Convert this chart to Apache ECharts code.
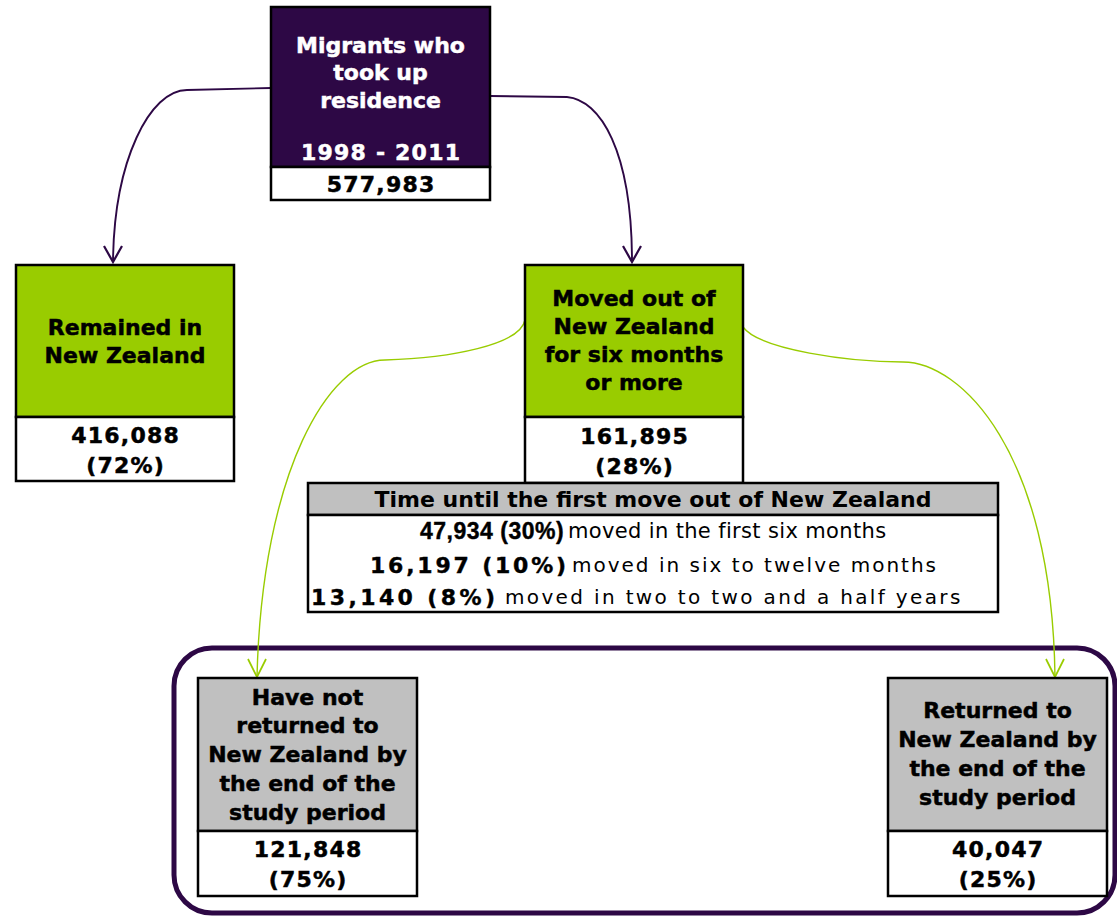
<!DOCTYPE html>
<html>
<head>
<meta charset="utf-8">
<title>Migrants who took up residence 1998 - 2011</title>
<script src="https://cdn.jsdelivr.net/npm/echarts@6/dist/echarts.min.js"></script>
<style>
  html, body { margin: 0; padding: 0; background: #fff; }
  #chart { width: 1117px; height: 916px; }
</style>
</head>
<body>
<div id="chart"></div>
<script>
// data
const nodeNames = [
  'Migrants who\ntook up\nresidence',
  'Remained in\nNew Zealand',
  'Moved out of\nNew Zealand\nfor six months\nor more',
  'Have not\nreturned to\nNew Zealand by\nthe end of the\nstudy period',
  'Returned to\nNew Zealand by\nthe end of the\nstudy period'
];
const nodeCounts = [577983, 416088, 161895, 121848, 40047];
const nodeShares = [null, 72, 28, 75, 25];
const periodLabel = '1998 - 2011';
const timingTitle = 'Time until the first move out of New Zealand';
const timingCounts = [47934, 16197, 13140];
const timingShares = [30, 10, 8];
const timingLabels = [
  'moved in the first six months',
  'moved in six to twelve months',
  'moved in two to two and a half years'
];

// layout
const PURPLE = '#2D0845';
const GREEN = '#99CC00';
const GREY = '#C0C0C0';
const TITLE_FONT = 'bold 22px "DejaVu Sans", Verdana, sans-serif';

const boxes = [
  { x: 271, y: 7, w: 219, top: 160, bottom: 33, fill: PURPLE, color: '#fff', textY: 72.5, lh: 27.5 },
  { x: 16, y: 265, w: 218, top: 152, bottom: 64, fill: GREEN, color: '#000', textY: 341, lh: 28 },
  { x: 525, y: 265, w: 218, top: 152, bottom: 66, fill: GREEN, color: '#000', textY: 340.5, lh: 28.3 },
  { x: 198, y: 678, w: 219, top: 153, bottom: 65, fill: GREY, color: '#000', textY: 754.5, lh: 28.75 },
  { x: 888, y: 678, w: 219, top: 153, bottom: 65, fill: GREY, color: '#000', textY: 754, lh: 28.7 }
];

// each connector: straight lead-in, cubic pieces, arrow head
const connectors = [
  { color: PURPLE, width: 1.9,
    lead: [271, 88, 187, 90],
    curves: [[187, 90, 150, 90, 114, 160, 113, 262]],
    head: [[104, 246], [113, 262], [122, 246]] },
  { color: PURPLE, width: 1.9,
    lead: [490, 96, 567, 97],
    curves: [[567, 97, 600, 100, 632, 150, 632, 262]],
    head: [[623, 246], [632, 262], [641, 246]] },
  { color: GREEN, width: 1.4,
    lead: null,
    curves: [[525, 320, 520, 345, 450, 358, 385, 360], [385, 360, 330, 360, 262, 470, 257, 677]],
    head: [[248, 659], [257, 677], [266, 659]] },
  { color: GREEN, width: 1.4,
    lead: null,
    curves: [[743, 327, 760, 350, 850, 362, 903, 362], [903, 362, 960, 362, 1052, 450, 1055, 677]],
    head: [[1046, 659], [1055, 677], [1064, 659]] }
];

const table = { x: 308, y: 483, w: 690, head: 32, body: 97, titleY: 499 };
const tableRows = [
  { y: 531, boldX: 420, textX: 568, b: 'bold 23px "Liberation Sans", Arial, sans-serif', bSpace: 0.5,
    r: '21px "DejaVu Sans", Tahoma, sans-serif', rSpace: 0.35 },
  { y: 565, boldX: 370, textX: 572, b: 'bold 22px "DejaVu Sans", Verdana, sans-serif', bSpace: 2.8,
    r: '20px "DejaVu Sans", Tahoma, sans-serif', rSpace: 2 },
  { y: 597, boldX: 311, textX: 505, b: 'bold 22px "DejaVu Sans", Verdana, sans-serif', bSpace: 3.4,
    r: '20px "DejaVu Sans", Tahoma, sans-serif', rSpace: 2.35 }
];

const fmt = v => v.toLocaleString('en-US');
const countText = i => fmt(timingCounts[i]) + ' (' + timingShares[i] + '%)';

// letter spacing applied to the rendered svg text afterwards
const spacing = new Map();

const els = [];

// frame round the last two groups
els.push({
  type: 'rect', z: 1,
  shape: { x: 174, y: 648, width: 941, height: 265, r: 38 },
  style: { fill: 'none', stroke: PURPLE, lineWidth: 5 }
});

connectors.forEach(c => {
  const st = { fill: 'none', stroke: c.color, lineWidth: c.width };
  if (c.lead) {
    els.push({ type: 'line', z: 2,
      shape: { x1: c.lead[0], y1: c.lead[1], x2: c.lead[2], y2: c.lead[3] }, style: st });
  }
  c.curves.forEach(p => {
    els.push({ type: 'bezierCurve', z: 2,
      shape: { x1: p[0], y1: p[1], cpx1: p[2], cpy1: p[3], cpx2: p[4], cpy2: p[5], x2: p[6], y2: p[7] },
      style: st });
  });
  els.push({ type: 'polyline', z: 2, shape: { points: c.head },
    style: { fill: 'none', stroke: c.color, lineWidth: c.width + 0.3 } });
});

boxes.forEach((b, i) => {
  const cx = b.x + b.w / 2;
  els.push({ type: 'rect', z: 3, shape: { x: b.x, y: b.y, width: b.w, height: b.top },
    style: { fill: b.fill, stroke: '#000', lineWidth: 2.5 } });
  els.push({ type: 'rect', z: 3, shape: { x: b.x, y: b.y + b.top, width: b.w, height: b.bottom },
    style: { fill: '#fff', stroke: '#000', lineWidth: 2.5 } });
  els.push({ type: 'text', z: 4, x: cx, y: b.textY,
    style: { text: nodeNames[i], fill: b.color, stroke: b.color, lineWidth: 0.5, font: TITLE_FONT,
      align: 'center', verticalAlign: 'middle', lineHeight: b.lh } });
  const low = nodeShares[i] == null
    ? fmt(nodeCounts[i])
    : fmt(nodeCounts[i]) + '\n(' + nodeShares[i] + '%)';
  low.split('\n').forEach(s => spacing.set(s, 1.2));
  els.push({ type: 'text', z: 4, x: cx + 0.6, y: b.y + b.top + b.bottom / 2 + 1,
    style: { text: low, fill: '#000', stroke: '#000', lineWidth: 0.5, font: TITLE_FONT,
      align: 'center', verticalAlign: 'middle', lineHeight: 30 } });
});

// period line inside the top box
spacing.set(periodLabel, 1.2);
els.push({ type: 'text', z: 4, x: boxes[0].x + boxes[0].w / 2 + 0.6, y: 152,
  style: { text: periodLabel, fill: '#fff', stroke: '#fff', lineWidth: 0.5, font: TITLE_FONT,
    align: 'center', verticalAlign: 'middle' } });

// timing table
els.push({ type: 'rect', z: 5, shape: { x: table.x, y: table.y, width: table.w, height: table.head },
  style: { fill: GREY, stroke: '#000', lineWidth: 2.5 } });
els.push({ type: 'rect', z: 5, shape: { x: table.x, y: table.y + table.head, width: table.w, height: table.body },
  style: { fill: '#fff', stroke: '#000', lineWidth: 2.5 } });
els.push({ type: 'text', z: 6, x: table.x + table.w / 2, y: table.titleY,
  style: { text: timingTitle, fill: '#000', font: 'bold 22px "DejaVu Sans", Tahoma, sans-serif',
    align: 'center', verticalAlign: 'middle' } });
tableRows.forEach((row, i) => {
  spacing.set(countText(i), row.bSpace);
  spacing.set(timingLabels[i], row.rSpace);
  els.push({ type: 'text', z: 6, x: row.boldX, y: row.y,
    style: { text: countText(i), fill: '#000', stroke: '#000', lineWidth: 0.4, font: row.b,
      align: 'left', verticalAlign: 'middle' } });
  els.push({ type: 'text', z: 6, x: row.textX, y: row.y,
    style: { text: timingLabels[i], fill: '#000', font: row.r, align: 'left', verticalAlign: 'middle' } });
});

const chart = echarts.init(document.getElementById('chart'), null, { renderer: 'svg' });
chart.setOption({
  backgroundColor: '#fff',
  animation: false,
  graphic: { elements: els }
});

chart.getDom().querySelectorAll('text').forEach(t => {
  const s = spacing.get(t.textContent);
  if (s) t.style.letterSpacing = s + 'px';
});
</script>
</body>
</html>
